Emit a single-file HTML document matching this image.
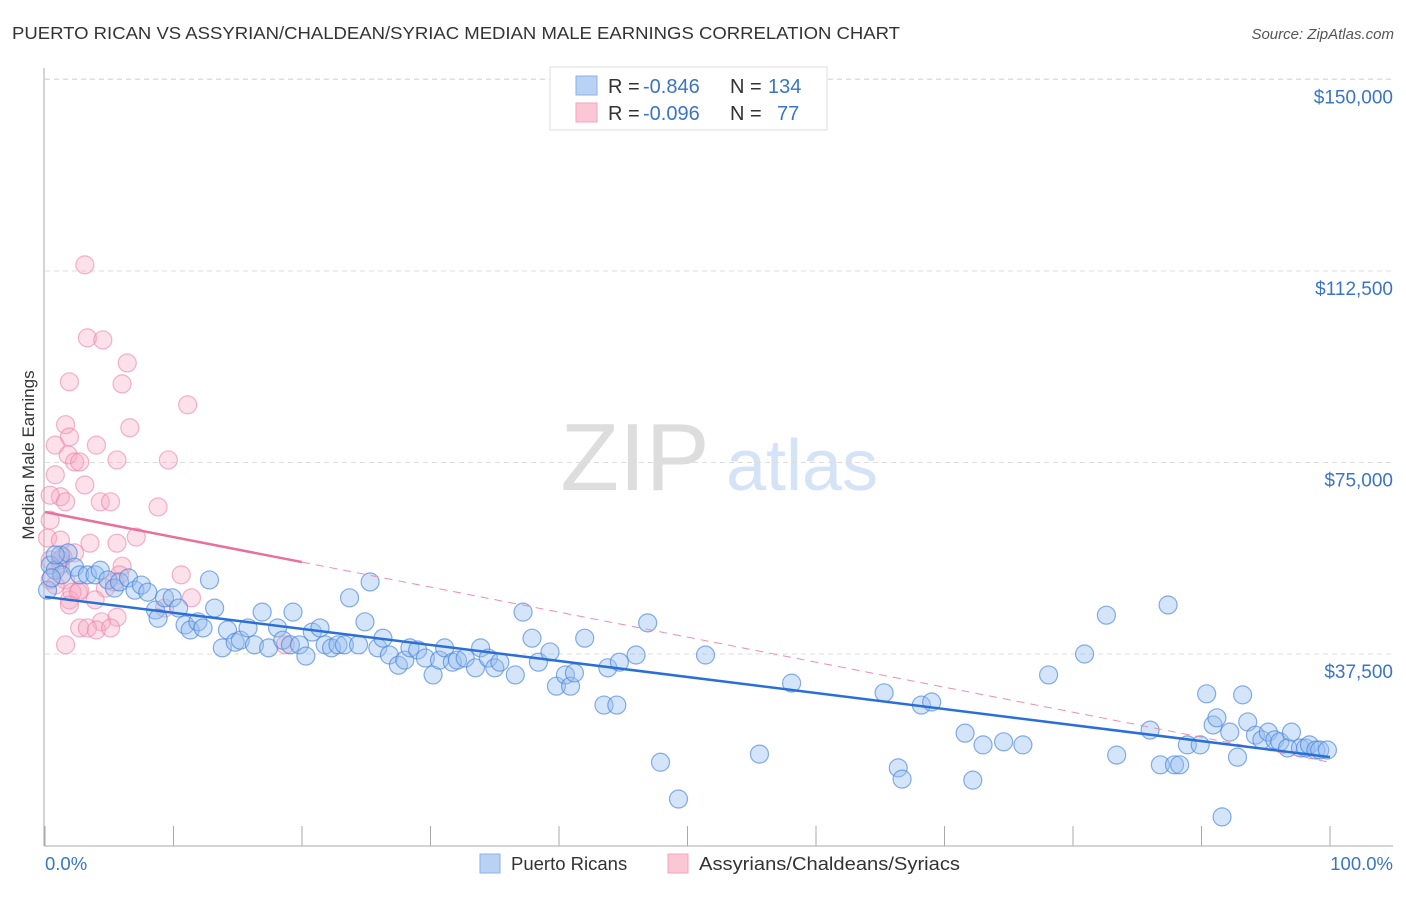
<!DOCTYPE html>
<html><head><meta charset="utf-8"><style>
body{margin:0;background:#fff;font-family:"Liberation Sans",sans-serif;}
svg text{font-family:"Liberation Sans",sans-serif;}
</style></head><body>
<svg id="chart" width="1406" height="892" xmlns="http://www.w3.org/2000/svg">
<text x="12" y="39" font-size="17.5" fill="#333" textLength="888" lengthAdjust="spacingAndGlyphs">PUERTO RICAN VS ASSYRIAN/CHALDEAN/SYRIAC MEDIAN MALE EARNINGS CORRELATION CHART</text>
<text x="1394" y="39" font-size="15" fill="#555" font-style="italic" text-anchor="end">Source: ZipAtlas.com</text>
<g>
<text x="635" y="490" font-size="96" fill="#ddd" font-family="Liberation Serif, serif" text-anchor="middle">ZIP</text>
<text x="802" y="490" font-size="72" fill="#d4e3f5" text-anchor="middle">atlas</text>
</g>
<g id="grid"></g>
<g id="axes"></g>
<g id="marks"></g>
<text transform="translate(34,455) rotate(-90)" font-size="17" fill="#333" text-anchor="middle">Median Male Earnings</text>
<g>
<rect x="550" y="67" width="277" height="63" fill="#fff" stroke="#ddd"/>
<rect x="576" y="76" width="21" height="19" fill="#b8d2f4" stroke="#8ab0e8"/>
<rect x="576" y="103" width="21" height="19" fill="#fbc6d6" stroke="#f3a6be"/>
<text x="608" y="93" font-size="20" fill="#333">R =</text>
<text x="643" y="93" font-size="20" fill="#3a75c4">-0.846</text>
<text x="730" y="93" font-size="20" fill="#333">N =</text>
<text x="768" y="93" font-size="20" fill="#3a75c4">134</text>
<text x="608" y="120" font-size="20" fill="#333">R =</text>
<text x="643" y="120" font-size="20" fill="#3a75c4">-0.096</text>
<text x="730" y="120" font-size="20" fill="#333">N =</text>
<text x="777" y="120" font-size="20" fill="#3a75c4">77</text>
</g>
<g>
<rect x="480" y="854" width="20" height="19" fill="#b8d2f4" stroke="#8ab0e8"/>
<text x="511" y="870" font-size="18.5" fill="#333">Puerto Ricans</text>
<rect x="668" y="854" width="20" height="19" fill="#fbc6d6" stroke="#f3a6be"/>
<text x="699" y="870" font-size="18.5" fill="#333" textLength="261" lengthAdjust="spacingAndGlyphs">Assyrians/Chaldeans/Syriacs</text>
</g>
</svg>
<script>
const yTicks=[37500,75000,112500,150000];
const yTickLabels=["$37,500","$75,000","$112,500","$150,000"];
const xTicks=[0,10,20,30,40,50,60,70,80,90,100];
const blueX=[0.4,0.8,1.2,1.8,2.3,2.7,3.3,3.9,4.3,4.9,5.4,5.8,6.5,7.0,7.5,8.0,8.6,8.8,9.3,9.9,10.4,10.9,11.3,11.9,12.3,12.8,13.2,13.8,14.2,14.8,15.2,15.8,16.3,16.9,17.4,18.1,18.5,19.1,19.3,19.8,20.3,20.8,21.4,21.8,22.3,22.8,23.3,23.7,24.4,24.9,25.3,25.9,26.3,26.8,27.5,28.0,28.4,29.0,29.6,30.2,30.7,31.1,31.7,32.1,32.7,33.5,33.9,34.5,35.0,35.4,36.6,37.2,37.9,38.4,39.3,39.8,40.5,40.9,41.2,42.0,43.5,43.8,44.5,44.7,46.0,46.9,47.9,49.3,51.4,55.6,58.1,65.3,66.4,66.7,68.2,69.0,71.6,72.2,73.0,74.6,76.1,78.1,80.9,82.6,83.4,86.0,86.8,87.4,87.9,88.3,88.9,89.9,90.4,90.9,91.2,91.6,92.2,92.8,93.2,93.6,94.2,94.7,95.2,95.7,96.1,96.7,97.0,97.7,98.1,98.4,98.9,99.2,99.8,0.2,0.8,1.3,0.5];
const blueY=[54.9,53.9,56.9,57.3,54.5,53.0,53.0,53.0,53.9,52.0,50.4,51.6,52.4,50.0,51.0,49.6,46.1,44.5,48.5,48.5,46.5,43.2,42.2,43.8,42.6,52.0,46.5,38.7,42.2,39.8,40.2,42.6,39.3,45.7,38.7,42.6,40.2,39.3,45.7,39.3,37.1,41.8,42.6,39.3,38.7,39.3,39.3,48.5,39.3,43.8,51.6,38.7,40.6,37.3,35.3,36.3,38.7,38.3,36.7,33.4,36.3,38.7,35.9,36.3,36.7,34.8,38.7,36.7,34.8,35.9,33.4,45.7,40.6,35.9,37.9,31.2,33.4,31.2,33.8,40.6,27.5,34.8,27.5,35.9,37.3,43.6,16.3,9.1,37.3,17.9,31.8,29.9,15.2,13.0,27.5,28.1,22.0,12.8,19.7,20.3,19.7,33.4,37.5,45.1,17.7,22.6,15.8,47.1,15.8,15.8,19.7,19.7,29.7,23.6,25.0,5.6,22.2,17.3,29.5,24.2,21.6,20.7,22.2,20.7,20.3,19.1,22.2,19.1,19.1,19.7,18.7,18.7,18.7,50.0,56.9,53.0,52.4];
const pinkX=[3.1,3.3,4.5,6.4,6.0,1.9,11.1,6.6,1.6,1.9,0.8,4.0,1.8,2.3,2.7,5.6,9.6,0.8,3.1,1.2,0.4,1.6,4.3,5.1,8.8,0.4,0.2,1.2,3.5,5.6,7.1,2.3,0.4,1.2,6.0,10.6,0.4,1.6,2.7,4.7,1.9,3.9,11.4,9.3,5.6,4.4,2.7,3.3,4.0,5.1,1.6,18.7,0.8,2.1,2.6,1.4,5.8,5.4,1.2,1.9];
const pinkY=[113.7,99.4,99.0,94.5,90.4,90.8,86.3,81.8,82.4,80.0,78.4,78.4,76.5,75.1,75.1,75.5,75.5,72.6,70.6,68.3,68.6,67.3,67.3,67.3,66.3,63.7,60.2,59.8,59.2,59.2,60.4,57.3,55.9,54.9,54.7,53.0,52.0,52.0,50.0,50.4,48.1,48.1,48.5,46.5,44.7,43.8,42.6,42.6,42.2,42.6,39.3,39.3,51.0,49.6,49.6,56.5,53.0,51.6,55.9,47.1];
const blueTrend=[48.7,17.3];
const pinkTrend=[65.3,16.3];
const pinkSolidEnd=20;

const NS="http://www.w3.org/2000/svg";
const X0=45,X1=1330,Y0=845.5,PERK=191.5/37.5;
const xs=v=>X0+(X1-X0)*v/100;
const ys=v=>Y0-v*PERK;
function mk(tag,attrs,parent){const e=document.createElementNS(NS,tag);for(const k in attrs)e.setAttribute(k,attrs[k]);parent.appendChild(e);return e;}
const grid=document.getElementById('grid'),axes=document.getElementById('axes'),marks=document.getElementById('marks');
yTicks.forEach((t,i)=>{
 const l=mk('line',{x1:45,x2:1393,y1:ys(t/1000),y2:ys(t/1000),stroke:'#ddd','stroke-dasharray':'5,4'},grid);
 
 
 const tx=mk('text',{x:1393,y:ys(t/1000)+24,'font-size':19,fill:'#3a75c4','text-anchor':'end'},axes);
 tx.textContent=yTickLabels[i];
 
 
});
{const l=mk('line',{x1:45,x2:1393,y1:79,y2:79,stroke:'#ddd','stroke-dasharray':'5,4'},grid);
 
 }
{const a=mk('line',{x1:44,x2:44,y1:68,y2:846,stroke:'#aaa'},axes);
 
 
 const b=mk('line',{x1:44,x2:1393,y1:846,y2:846,stroke:'#aaa'},axes);
 
 }
xTicks.forEach(t=>{
 const l=mk('line',{x1:xs(t),x2:xs(t),y1:826,y2:846,stroke:'#aaa'},axes);
 
 
});
{const a=mk('text',{x:45,y:870,'font-size':18.5,fill:'#3a75c4'},axes);a.textContent='0.0%';
 
 
 const b=mk('text',{x:1393,y:870,'font-size':18.5,fill:'#3a75c4','text-anchor':'end'},axes);b.textContent='100.0%';
 
 }
pinkX.forEach((x,i)=>{
 const c=mk('circle',{cx:xs(x),cy:ys(pinkY[i]),r:9,fill:'rgba(246,170,196,0.35)',stroke:'rgba(236,130,165,0.6)','stroke-width':1.2},marks);
 
 
});
blueX.forEach((x,i)=>{
 const c=mk('circle',{cx:xs(x),cy:ys(blueY[i]),r:9,fill:'rgba(150,190,240,0.4)',stroke:'rgba(70,130,220,0.65)','stroke-width':1.2},marks);
 
 
});
const pAt=x=>pinkTrend[0]+(pinkTrend[1]-pinkTrend[0])*x/100;
{const d=mk('line',{x1:xs(pinkSolidEnd),y1:ys(pAt(pinkSolidEnd)),x2:xs(100),y2:ys(pAt(100)),stroke:'#eb8fae','stroke-width':1,'stroke-dasharray':'8,6'},marks);
 
 
 const s=mk('line',{x1:xs(0),y1:ys(pAt(0)),x2:xs(pinkSolidEnd),y2:ys(pAt(pinkSolidEnd)),stroke:'#e8709a','stroke-width':2.5},marks);
 
 
 const b=mk('line',{x1:xs(0),y1:ys(blueTrend[0]),x2:xs(100),y2:ys(blueTrend[1]),stroke:'#2a6fd6','stroke-width':2.5},marks);
 
 }
</script>
</body></html>
